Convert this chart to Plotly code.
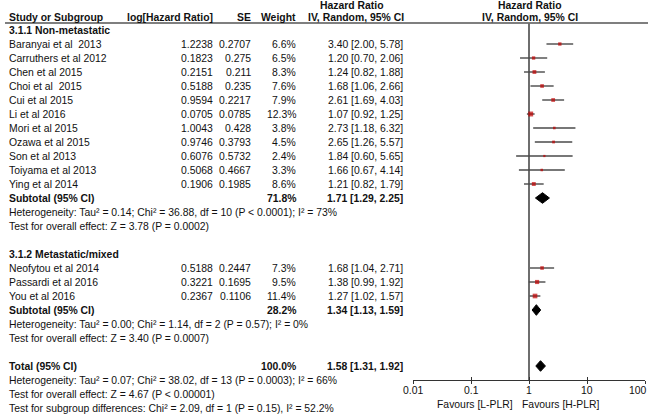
import math
import plotly.graph_objects as go

# ---------------- data ----------------
g1_names = ["Baranyai et al\u00a0 2013", "Carruthers et al 2012", "Chen et al 2015", "Choi et al\u00a0 2015",
            "Cui et al 2015", "Li et al 2016", "Mori et al 2015", "Ozawa et al 2015", "Son et al 2013",
            "Toiyama et al 2013", "Ying et al 2014"]
g1_loghr = ["1.2238", "0.1823", "0.2151", "0.5188", "0.9594", "0.0705", "1.0043", "0.9746", "0.6076", "0.5068", "0.1906"]
g1_se = ["0.2707", "0.275", "0.211", "0.235", "0.2217", "0.0785", "0.428", "0.3793", "0.5732", "0.4667", "0.1985"]
g1_weight = [6.6, 6.5, 8.3, 7.6, 7.9, 12.3, 3.8, 4.5, 2.4, 3.3, 8.6]
g1_hr = [3.40, 1.20, 1.24, 1.68, 2.61, 1.07, 2.73, 2.65, 1.84, 1.66, 1.21]
g1_lo = [2.00, 0.70, 0.82, 1.06, 1.69, 0.92, 1.18, 1.26, 0.60, 0.67, 0.82]
g1_hi = [5.78, 2.06, 1.88, 2.66, 4.03, 1.25, 6.32, 5.57, 5.65, 4.14, 1.79]
g1_sub = (71.8, 1.71, 1.29, 2.25)

g2_names = ["Neofytou et al 2014", "Passardi et al 2016", "You et al 2016"]
g2_loghr = ["0.5188", "0.3221", "0.2367"]
g2_se = ["0.2447", "0.1695", "0.1106"]
g2_weight = [7.3, 9.5, 11.4]
g2_hr = [1.68, 1.38, 1.27]
g2_lo = [1.04, 0.99, 1.02]
g2_hi = [2.71, 1.92, 1.57]
g2_sub = (28.2, 1.34, 1.13, 1.59)

total = (100.0, 1.58, 1.31, 1.92)

het1 = "Heterogeneity: Tau\u00b2 = 0.14; Chi\u00b2 = 36.88, df = 10 (P < 0.0001); I\u00b2 = 73%"
eff1 = "Test for overall effect: Z = 3.78 (P = 0.0002)"
het2 = "Heterogeneity: Tau\u00b2 = 0.00; Chi\u00b2 = 1.14, df = 2 (P = 0.57); I\u00b2 = 0%"
eff2 = "Test for overall effect: Z = 3.40 (P = 0.0007)"
het_t = "Heterogeneity: Tau\u00b2 = 0.07; Chi\u00b2 = 38.02, df = 13 (P = 0.0003); I\u00b2 = 66%"
eff_t = "Test for overall effect: Z = 4.67 (P < 0.00001)"
sub_t = "Test for subgroup differences: Chi\u00b2 = 2.09, df = 1 (P = 0.15), I\u00b2 = 52.2%"

tick_vals = [0.01, 0.1, 1, 10, 100]
tick_text = ["0.01", "0.1", "1", "10", "100"]

# ---------------- layout helpers ----------------
W, H = 650, 417
ROW0, ROWH = 44.0, 14.0          # pixel of first study row, row pitch
def rowpx(p):                     # pixel -> row coordinate
    return (p - ROW0) / ROWH

FONT = "Arial, 'Liberation Sans', sans-serif"
FS = 10.4
TXT = "#111111"

X_NAME, X_LOG, X_SE, X_W, X_CI = 7, 215, 253, 298, 405

annotations = []
def txt(px, row, s, anchor="left", bold=False, size=FS):
    annotations.append(dict(
        x=px / W, xref="paper", y=row, yref="y", text=("<b>%s</b>" % s) if bold else s,
        showarrow=False, xanchor=anchor, yanchor="middle",
        font=dict(family=FONT, size=size, color=TXT)))

def fmt_ci(h, l, u):
    return "%.2f [%.2f, %.2f]" % (h, l, u)

# rows
rows1 = list(range(len(g1_names)))
sub1_row = len(g1_names)
rows2 = [sub1_row + 5 + i for i in range(len(g2_names))]
sub2_row = rows2[-1] + 1
tot_row = sub2_row + 4

# headers
txt(352, rowpx(5), "Hazard Ratio", "center", True)
txt(530, rowpx(5), "Hazard Ratio", "center", True)
txt(X_NAME, rowpx(17), "Study or Subgroup", "left", True)
txt(X_LOG, rowpx(17), "log[Hazard Ratio]", "right", True)
txt(X_SE, rowpx(17), "SE", "right", True)
txt(X_W, rowpx(17), "Weight", "right", True)
txt(356, rowpx(17), "IV, Random, 95% CI", "center", True)
txt(530, rowpx(17), "IV, Random, 95% CI", "center", True)

txt(X_NAME, -1, "3.1.1 Non-metastatic", "left", True)
for i, r in enumerate(rows1):
    txt(X_NAME, r, g1_names[i])
    txt(X_LOG, r, g1_loghr[i], "right")
    txt(X_SE, r, g1_se[i], "right")
    txt(X_W, r, "%.1f%%" % g1_weight[i], "right")
    txt(X_CI, r, fmt_ci(g1_hr[i], g1_lo[i], g1_hi[i]), "right")
txt(X_NAME, sub1_row, "Subtotal (95% CI)", "left", True)
txt(X_W, sub1_row, "%.1f%%" % g1_sub[0], "right", True)
txt(X_CI, sub1_row, fmt_ci(*g1_sub[1:]), "right", True)
txt(X_NAME, sub1_row + 1, het1)
txt(X_NAME, sub1_row + 2, eff1)

txt(X_NAME, rows2[0] - 1, "3.1.2 Metastatic/mixed", "left", True)
for i, r in enumerate(rows2):
    txt(X_NAME, r, g2_names[i])
    txt(X_LOG, r, g2_loghr[i], "right")
    txt(X_SE, r, g2_se[i], "right")
    txt(X_W, r, "%.1f%%" % g2_weight[i], "right")
    txt(X_CI, r, fmt_ci(g2_hr[i], g2_lo[i], g2_hi[i]), "right")
txt(X_NAME, sub2_row, "Subtotal (95% CI)", "left", True)
txt(X_W, sub2_row, "%.1f%%" % g2_sub[0], "right", True)
txt(X_CI, sub2_row, fmt_ci(*g2_sub[1:]), "right", True)
txt(X_NAME, sub2_row + 1, het2)
txt(X_NAME, sub2_row + 2, eff2)

txt(X_NAME, tot_row, "Total (95% CI)", "left", True)
txt(X_W, tot_row, "%.1f%%" % total[0], "right", True)
txt(X_CI, tot_row, fmt_ci(*total[1:]), "right", True)
txt(X_NAME, tot_row + 1, het_t)
txt(X_NAME, tot_row + 2, eff_t)
txt(X_NAME, tot_row + 3, sub_t)

txt(515, rowpx(404), "Favours [L-PLR]", "right")
txt(520, rowpx(404), "Favours [H-PLR]", "left")

# tick labels of the log axis, placed on the axis' own scale
for i, (v, t) in enumerate(zip(tick_vals, tick_text)):
    last = i == len(tick_vals) - 1
    annotations.append(dict(
        x=math.log10(v), xref="x", y=rowpx(390), yref="y", text=t, showarrow=False,
        xanchor="right" if last else "center", xshift=4 if last else 0, yanchor="middle",
        font=dict(family=FONT, size=FS, color=TXT)))

# ---------------- traces ----------------
fig = go.Figure()

all_rows = rows1 + rows2
all_hr = g1_hr + g2_hr
all_lo = g1_lo + g2_lo
all_hi = g1_hi + g2_hi
all_w = g1_weight + g2_weight

# vertical line of no effect
fig.add_trace(go.Scatter(x=[1, 1], y=[rowpx(23.5), rowpx(380)], mode="lines",
                         line=dict(color="#6e6e6e", width=2), hoverinfo="skip", showlegend=False))

cx, cy = [], []
for r, l, u in zip(all_rows, all_lo, all_hi):
    cx += [l, u, None]
    cy += [r, r, None]
fig.add_trace(go.Scatter(x=cx, y=cy, mode="lines", line=dict(color="#4a4a4a", width=1.4),
                         hoverinfo="skip", showlegend=False))
fig.add_trace(go.Scatter(x=all_hr, y=all_rows, mode="markers",
                         marker=dict(symbol="square", color="#c00000",
                                     size=[1.6 + 0.27 * w for w in all_w], line=dict(width=0)),
                         hoverinfo="skip", showlegend=False))

DH = 0.38
for r, (_, est, lo, hi) in [(sub1_row, g1_sub), (sub2_row, g2_sub), (tot_row, total)]:
    fig.add_trace(go.Scatter(x=[lo, est, hi, est, lo], y=[r, r - DH, r, r + DH, r], mode="lines",
                             fill="toself", fillcolor="black", line=dict(color="black", width=1),
                             hoverinfo="skip", showlegend=False))

# header rule
shapes = [dict(type="line", xref="paper", yref="y", x0=5 / W, x1=648 / W,
               y0=rowpx(23), y1=rowpx(23), line=dict(color="#555555", width=1.5))]

axis_pos = 1 - 380 / H
fig.update_layout(
    width=W, height=H, margin=dict(l=0, r=0, t=0, b=0),
    paper_bgcolor="white", plot_bgcolor="white",
    annotations=annotations, shapes=shapes,
    xaxis=dict(type="log", range=[-2, 2], domain=[413 / W, 645 / W], anchor="free", position=axis_pos,
               showgrid=False, zeroline=False, showline=True, linecolor="#333333", linewidth=1.2,
               ticks="outside", ticklen=3, tickwidth=1.2, tickcolor="#333333",
               tickmode="array", tickvals=tick_vals, showticklabels=False),
    xaxis2=dict(type="log", range=[-2, 2], domain=[413 / W, 645 / W], anchor="free", position=axis_pos,
                overlaying="x", showgrid=False, zeroline=False, showline=False,
                ticks="inside", ticklen=3, tickwidth=1.2, tickcolor="#333333",
                tickmode="array", tickvals=tick_vals, showticklabels=False),
    yaxis=dict(range=[rowpx(H), rowpx(0)], domain=[0, 1], visible=False, showgrid=False, zeroline=False),
)
# dummy trace to display xaxis2
fig.add_trace(go.Scatter(x=[1], y=[None], xaxis="x2", mode="markers", showlegend=False, hoverinfo="skip"))

fig.write_html("out.html", config={"displayModeBar": False},
               post_script="document.body.style.margin='0';document.body.style.padding='0';"
                           "document.body.style.overflow='hidden';"
                           "document.documentElement.style.overflow='hidden';")
